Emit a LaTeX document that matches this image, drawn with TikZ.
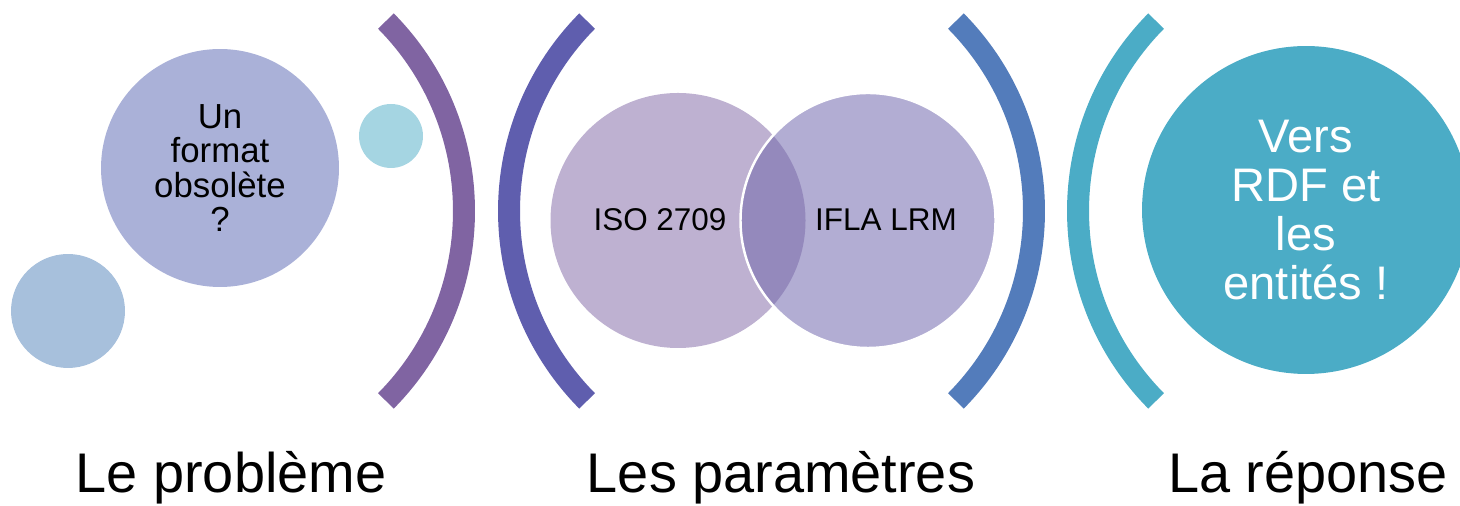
\documentclass[tikz,border=0pt]{standalone}
\usepackage{fontspec}
\setmainfont{Liberation Sans}

\definecolor{arcA}{HTML}{8064A2}
\definecolor{arcB}{HTML}{5F5EAE}
\definecolor{arcC}{HTML}{537CBB}
\definecolor{arcD}{HTML}{4BACC6}
\definecolor{bulleA}{HTML}{AAB1D8}
\definecolor{bulleB}{HTML}{A7C0DC}
\definecolor{bulleC}{HTML}{A5D5E2}
\definecolor{vennA}{HTML}{BEB1D1}
\definecolor{vennB}{HTML}{B2ADD3}
\definecolor{vennAB}{HTML}{9489BC}

\begin{document}
\begin{tikzpicture}[x=0.02cm,y=0.02cm,
		parenthese/.style={line width=0.44cm},
		titre/.style={anchor=base,font=\fontsize{31.8}{31.8}\selectfont},
		bulle/.style={circle,inner sep=0pt,align=center}]
		\clip (0,0) rectangle (1460,506);

		% parentheses
		\draw[parenthese,arcA] (194,295) ++(-44.7:270) arc[start angle=-44.7,end angle=44.7,radius=270];
		\draw[parenthese,arcB] (779,295) ++(135.3:270) arc[start angle=135.3,end angle=224.7,radius=270];
		\draw[parenthese,arcC] (764,295) ++(-44.7:270) arc[start angle=-44.7,end angle=44.7,radius=270];
		\draw[parenthese,arcD] (1348,295) ++(135.3:270) arc[start angle=135.3,end angle=224.7,radius=270];

		% le probleme
		\node[bulle,fill=bulleB,minimum size=2.28cm] (petite) at (68,195) {};
		\node[bulle,fill=bulleC,minimum size=1.28cm] (goutte) at (391,370) {};
		\node[bulle,fill=bulleA,minimum size=4.76cm,font=\fontsize{19.8}{19.5}\selectfont] (format) at (220,338) {Un\\format\\obsolète\\?};

		% les parametres
		\fill[vennA] (678,285.5) circle[radius=127.5];
		\fill[vennB] (868,285.5) circle[radius=127.5];
		\begin{scope}
			\clip (678,285.5) circle[radius=127.5];
			\fill[vennAB] (868,285.5) circle[radius=127.5];
		\end{scope}
		\draw[white,line width=1.4pt] (868,285.5) circle[radius=127.5];
		\node[font=\fontsize{17.9}{17.9}\selectfont] (iso) at (660,286) {ISO 2709};
		\node[font=\fontsize{17.9}{17.9}\selectfont] (lrm) at (886,286) {IFLA LRM};

		% la reponse
		\node[bulle,fill=arcD,minimum size=6.56cm,text=white,font=\fontsize{26.8}{27.8}\selectfont] (rdf) at (1306,296) {Vers\\RDF et\\les\\entités !};

		% titres
		\node[titre] (probleme) at (231,13) {Le problème};
		\node[titre] (parametres) at (781,13) {Les paramètres};
		\node[titre] (reponse) at (1308,13) {La réponse};
	\end{tikzpicture}
\end{document}
